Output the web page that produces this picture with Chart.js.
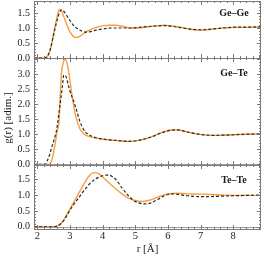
<!DOCTYPE html>
<html>
<head>
<meta charset="utf-8">
<script src="https://cdn.jsdelivr.net/npm/chart.js@4/dist/chart.umd.min.js"></script>
<style>
  html, body { margin: 0; padding: 0; background: #fff; }
  #wrap { position: relative; width: 264px; height: 257px; }
  #wrap canvas { position: absolute; left: 0; top: 0; }
</style>
</head>
<body>
<div id="wrap">
  <canvas id="geGe" width="264" height="257"></canvas>
  <canvas id="geTe" width="264" height="257"></canvas>
  <canvas id="teTe" width="264" height="257"></canvas>
</div>
<script>
// x axis
const xTicks = [2, 3, 4, 5, 6, 7, 8];

// Ge-Ge
const rGeGeA = [1.9, 2.2, 2.3, 2.4, 2.5, 2.6, 2.67, 2.73, 2.8, 2.9, 3.0, 3.1, 3.2, 3.3, 3.45, 3.6, 3.8, 4.0, 4.2, 4.4, 4.6, 4.85, 5.1, 5.4, 5.7, 5.9, 6.1, 6.4, 6.7, 7.0, 7.2, 7.5, 7.8, 8.1, 8.4, 8.9];
const gGeGeA = [0, 0, 0.03, 0.27, 0.8, 1.33, 1.62, 1.6, 1.42, 1.12, 0.87, 0.73, 0.68, 0.72, 0.84, 0.93, 1.02, 1.07, 1.09, 1.09, 1.06, 1.0, 1.0, 1.04, 1.08, 1.09, 1.07, 1.02, 0.96, 0.93, 0.94, 0.98, 1.01, 1.02, 1.02, 1.03];
const rGeGeB = [1.9, 2.2, 2.3, 2.4, 2.5, 2.6, 2.7, 2.75, 2.8, 2.9, 3.0, 3.1, 3.2, 3.3, 3.4, 3.5, 3.6, 3.8, 4.0, 4.3, 4.6, 4.85, 5.1, 5.4, 5.7, 5.9, 6.1, 6.4, 6.7, 7.0, 7.2, 7.5, 7.8, 8.1, 8.4, 8.9];
const gGeGeB = [0, 0, 0.05, 0.3, 0.78, 1.23, 1.56, 1.6, 1.57, 1.42, 1.25, 1.1, 1.0, 0.93, 0.88, 0.86, 0.87, 0.93, 0.97, 1.0, 1.0, 1.0, 1.02, 1.05, 1.07, 1.08, 1.06, 1.01, 0.96, 0.94, 0.95, 0.98, 1.01, 1.03, 1.03, 1.04];

// Ge-Te
const rGeTeA = [1.9, 2.35, 2.4, 2.45, 2.5, 2.55, 2.6, 2.67, 2.7, 2.74, 2.78, 2.84, 2.9, 2.97, 3.05, 3.1, 3.18, 3.3, 3.4, 3.55, 3.8, 4.0, 4.4, 4.8, 5.1, 5.5, 5.8, 6.1, 6.3, 6.6, 7.0, 7.4, 7.8, 8.2, 8.9];
const gGeTeA = [0, 0, 0.04, 0.15, 0.4, 0.7, 1.05, 1.5, 2.2, 3.04, 3.32, 3.5, 3.42, 3.04, 2.4, 2.05, 1.6, 1.2, 1.05, 0.94, 0.88, 0.84, 0.8, 0.77, 0.8, 0.92, 1.06, 1.15, 1.15, 1.08, 1.0, 0.97, 0.98, 1.0, 1.02];
const rGeTeB = [1.9, 2.25, 2.3, 2.38, 2.45, 2.51, 2.6, 2.69, 2.77, 2.81, 2.87, 2.95, 3.0, 3.1, 3.2, 3.3, 3.4, 3.5, 3.65, 3.8, 4.0, 4.4, 4.8, 5.1, 5.5, 5.8, 6.1, 6.3, 6.6, 7.0, 7.4, 7.8, 8.2, 8.9];
const gGeTeB = [0, 0, 0.1, 0.33, 0.6, 0.8, 1.2, 1.93, 2.6, 2.98, 2.95, 2.65, 2.45, 2.15, 1.82, 1.45, 1.2, 1.05, 0.95, 0.89, 0.85, 0.8, 0.77, 0.8, 0.92, 1.05, 1.14, 1.15, 1.08, 1.0, 0.97, 0.98, 1.0, 1.02];

// Te-Te
const rTeTeA = [1.9, 2.5, 2.6, 2.7, 2.8, 2.9, 3.0, 3.1, 3.2, 3.3, 3.4, 3.5, 3.6, 3.7, 3.8, 3.9, 4.0, 4.2, 4.4, 4.6, 4.8, 5.0, 5.2, 5.4, 5.6, 5.8, 6.0, 6.3, 6.6, 7.0, 7.5, 8.0, 8.9];
const gTeTeA = [0, 0, 0.02, 0.08, 0.2, 0.38, 0.56, 0.74, 0.93, 1.12, 1.3, 1.48, 1.62, 1.7, 1.71, 1.66, 1.57, 1.38, 1.2, 1.03, 0.9, 0.83, 0.8, 0.83, 0.9, 0.98, 1.04, 1.06, 1.04, 1.03, 1.01, 0.99, 0.99];
const rTeTeB = [1.9, 2.5, 2.6, 2.7, 2.8, 2.9, 3.0, 3.1, 3.2, 3.3, 3.4, 3.5, 3.6, 3.7, 3.8, 3.9, 4.0, 4.1, 4.2, 4.3, 4.4, 4.6, 4.8, 5.0, 5.2, 5.35, 5.5, 5.7, 5.9, 6.1, 6.3, 6.6, 7.0, 7.5, 8.0, 8.9];
const gTeTeB = [0, 0, 0.02, 0.08, 0.18, 0.34, 0.52, 0.68, 0.82, 0.96, 1.1, 1.23, 1.35, 1.45, 1.52, 1.57, 1.61, 1.63, 1.63, 1.58, 1.5, 1.22, 0.97, 0.8, 0.73, 0.72, 0.76, 0.87, 0.98, 1.04, 1.02, 0.98, 0.95, 0.96, 0.98, 1.0];

const panels = [
  { id: 'geGe', label: 'Ge\u2013Ge', rA: rGeGeA, gA: gGeGeA, rB: rGeGeB, gB: gGeGeB,
    yMin: 0, yMax: 1.9, yTicks: [0, 0.5, 1.0, 1.5], pad: { top: 1, bottom: 199 }, labelY: 13 },
  { id: 'geTe', label: 'Ge\u2013Te', rA: rGeTeA, gA: gGeTeA, rB: rGeTeB, gB: gGeTeB,
    yMin: -0.02, yMax: 3.55, yTicks: [0, 0.5, 1.0, 1.5, 2.0, 2.5, 3.0], pad: { top: 58, bottom: 92 }, labelY: 73, yTitle: true },
  { id: 'teTe', label: 'Te\u2013Te', rA: rTeTeA, gA: gTeTeA, rB: rTeTeB, gB: gTeTeB,
    yMin: -0.07, yMax: 1.95, yTicks: [0, 0.5, 1.0, 1.5], pad: { top: 165, bottom: 0 }, labelY: 180, showX: true }
];

const serif = "'Liberation Serif', 'DejaVu Serif', serif";
const orange = '#fb9d3c';

// frame, inward ticks, zero line and panel label
const framePlugin = {
  id: 'frame',
  afterDatasetsDraw(chart, args, opts) {
    const { ctx, chartArea: a, scales: { x, y } } = chart;
    ctx.save();
    ctx.lineWidth = 1;

    // zero line
    ctx.strokeStyle = '#9a9a9a';
    const y0 = Math.round(y.getPixelForValue(0)) + 0.5;
    ctx.beginPath();
    ctx.moveTo(a.left, y0);
    ctx.lineTo(a.right, y0);
    ctx.stroke();

    ctx.strokeStyle = '#7a7a7a';
    ctx.beginPath();
    // x ticks, top and bottom
    for (let k = 0; k <= 35; k++) {
      const v = 2 + k * 0.2;
      if (v > x.max) break;
      const px = Math.round(x.getPixelForValue(v)) + 0.5;
      const len = k % 5 === 0 ? 4 : 2;
      ctx.moveTo(px, a.bottom); ctx.lineTo(px, a.bottom - len);
      ctx.moveTo(px, a.top); ctx.lineTo(px, a.top + len);
    }
    // y ticks, left and right
    for (let k = Math.ceil(y.min * 10); k <= Math.floor(y.max * 10); k++) {
      const py = Math.round(y.getPixelForValue(k / 10)) + 0.5;
      const len = k % 5 === 0 ? 4 : 2;
      ctx.moveTo(a.left, py); ctx.lineTo(a.left + len, py);
      ctx.moveTo(a.right, py); ctx.lineTo(a.right - len, py);
    }
    ctx.stroke();

    ctx.strokeRect(a.left + 0.5, a.top + 0.5, a.right - a.left - 1, a.bottom - a.top);

    // panel label
    ctx.fillStyle = '#1a1a1a';
    ctx.font = 'bold 10px ' + serif;
    ctx.textAlign = 'center';
    ctx.textBaseline = 'middle';
    ctx.fillText(opts.label, 234, opts.labelY);

    // shared y title
    if (opts.yTitle) {
      ctx.font = '11px ' + serif;
      ctx.translate(8, 118);
      ctx.rotate(-Math.PI / 2);
      ctx.fillText('g(r) [adim.]', 0, 0);
    }
    ctx.restore();
  }
};

panels.forEach(p => {
  const el = document.getElementById(p.id);
  new Chart(el, {
    type: 'line',
    data: {
      datasets: [
        {
          data: p.rB.map((r, i) => ({ x: r, y: p.gB[i] })),
          borderColor: '#2a2a2a',
          borderWidth: 1.2,
          borderDash: [3, 2],
          pointRadius: 0,
          cubicInterpolationMode: 'monotone',
          order: 0
        },
        {
          data: p.rA.map((r, i) => ({ x: r, y: p.gA[i] })),
          borderColor: orange,
          borderWidth: 1.4,
          pointRadius: 0,
          cubicInterpolationMode: 'monotone',
          order: 1
        }
      ]
    },
    options: {
      responsive: false,
      animation: false,
      events: [],
      layout: { padding: { left: 0, right: 3, top: p.pad.top, bottom: p.pad.bottom } },
      plugins: {
        legend: { display: false },
        tooltip: { enabled: false },
        frame: { label: p.label, labelY: p.labelY, yTitle: !!p.yTitle }
      },
      scales: {
        x: {
          type: 'linear',
          min: 1.9,
          max: 8.85,
          display: !!p.showX,
          afterFit: scale => {
            scale.height = p.showX ? 28 : 0;
            scale.paddingLeft = 0;
            scale.paddingRight = 0;
          },
          afterBuildTicks: scale => { scale.ticks = xTicks.map(v => ({ value: v })); },
          grid: { display: false, drawTicks: false },
          border: { display: false },
          ticks: {
            padding: 1,
            color: '#222',
            font: { family: serif, size: 10.5 },
            maxRotation: 0,
            callback: v => String(v)
          },
          title: {
            display: true,
            text: 'r [Å]',
            color: '#222',
            font: { family: serif, size: 11 },
            padding: { top: 0, bottom: 1 }
          }
        },
        y: {
          min: p.yMin,
          max: p.yMax,
          afterFit: scale => {
            scale.width = 34;
            scale.paddingTop = 0;
            scale.paddingBottom = 0;
          },
          afterBuildTicks: scale => { scale.ticks = p.yTicks.map(v => ({ value: v })); },
          grid: { display: false, drawTicks: false },
          border: { display: false },
          ticks: {
            padding: 4,
            color: '#222',
            font: { family: serif, size: 10 },
            callback: v => v.toFixed(1)
          }
        }
      }
    },
    plugins: [framePlugin]
  });
});
</script>
</body>
</html>
